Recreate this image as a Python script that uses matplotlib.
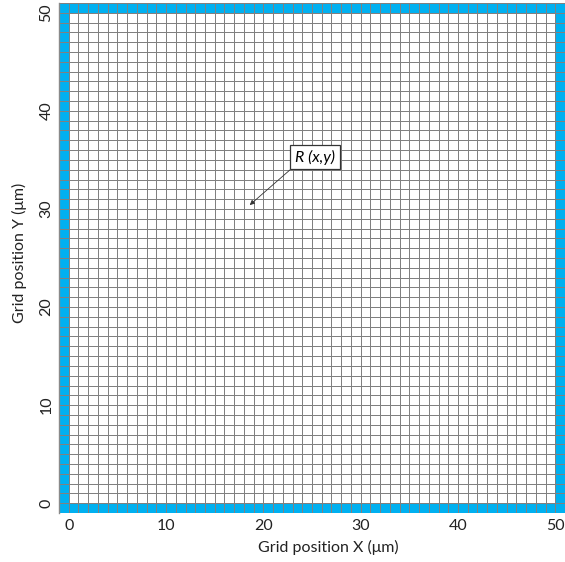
import numpy as np
import matplotlib
matplotlib.use("Agg")
import matplotlib.pyplot as plt
from matplotlib.colors import ListedColormap

plt.rcParams['font.family'] = ['Lato', 'DejaVu Sans']

# Data
x_min, x_max = 0, 50   # interior grid positions (μm)
y_min, y_max = 0, 50
x_ticks = [0, 10, 20, 30, 40, 50]
y_ticks = [0, 10, 20, 30, 40, 50]
x_label = "Grid position X (μm)"
y_label = "Grid position Y (μm)"
annot_text = "R (x,y)"
annot_point = (18.6, 30.4)
annot_text_pos = (25.3, 35.3)

# cells span from -1 to 51: one boundary (blue) cell on each side
x_edges = np.arange(x_min - 1, x_max + 2)
y_edges = np.arange(y_min - 1, y_max + 2)
nx, ny = len(x_edges) - 1, len(y_edges) - 1
grid = np.zeros((ny, nx))
grid[0, :] = 1
grid[-1, :] = 1
grid[:, 0] = 1
grid[:, -1] = 1

fig = plt.figure(figsize=(5.65, 5.62), dpi=100)
ax = fig.add_axes([59/565, 1-513/562, 506/565, 510/562])

cmap = ListedColormap(['white', '#00B0F0'])
ax.pcolormesh(x_edges, y_edges, grid, cmap=cmap, vmin=0, vmax=1,
              edgecolors='#808080', linewidth=0.55)

ax.set_xlim(x_edges[0], x_edges[-1])
ax.set_ylim(y_edges[0], y_edges[-1])
ax.set_xticks(x_ticks)
ax.set_yticks(y_ticks)
ax.set_yticklabels([str(t) for t in y_ticks], rotation=90, va='center')
ax.tick_params(length=0, labelsize=11.5, pad=4, colors='#222222')
for s in ['top', 'right', 'bottom']:
    ax.spines[s].set_visible(False)
ax.spines['left'].set_color('#8a8a8a')
ax.spines['left'].set_linewidth(1.0)

ax.set_xlabel(x_label, fontsize=11.5, labelpad=5, color='#222222')
ax.set_ylabel(y_label, fontsize=11.5, labelpad=7, color='#222222')
ax.xaxis.set_label_coords(0.532, -0.052)
ax.yaxis.set_label_coords(-0.064, 0.51)

ax.annotate(annot_text, xy=annot_point, xytext=annot_text_pos,
            fontsize=11.5, style='italic', ha='center', va='center',
            bbox=dict(boxstyle='square,pad=0.3', fc='white', ec='#333333', lw=0.9),
            arrowprops=dict(arrowstyle='-|>', color='#333333', lw=0.6,
                            mutation_scale=7, shrinkA=0, shrinkB=0,
                            relpos=(0.03, 0.0)))

fig.savefig("out.png", dpi=100)
